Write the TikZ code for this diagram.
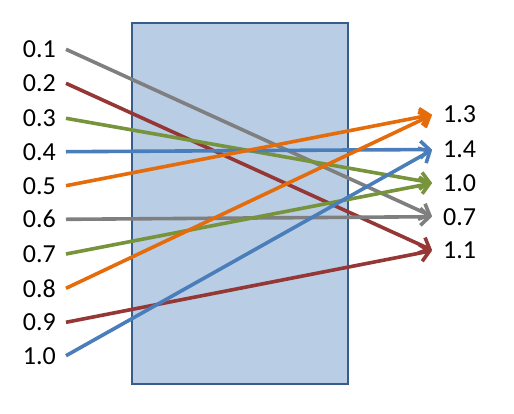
\documentclass[tikz,border=0pt]{standalone}
\usepackage{fontspec}
\setmainfont{Carlito}
\usetikzlibrary{arrows.meta}
\definecolor{cgray}{HTML}{7F7F7F}
\definecolor{cred}{HTML}{953735}
\definecolor{cgreen}{HTML}{77933C}
\definecolor{cblue}{HTML}{4A7EBB}
\definecolor{corange}{HTML}{E46C0A}
\definecolor{boxfill}{HTML}{B9CDE5}
\definecolor{boxline}{HTML}{385D8A}
\begin{document}
\begin{tikzpicture}[x=1pt,y=-1pt,
  lab/.style={font=\fontsize{26}{30}\selectfont, inner ysep=0pt},
  llab/.style={lab, anchor=east, inner xsep=10pt},
  rlab/.style={lab, anchor=west, inner xsep=10pt},
  conn/.style={line width=3.6pt, -{Straight Barb[length=9pt,width=17pt,line width=3.6pt]}, shorten >=1pt}]
\useasboundingbox (0,0) rectangle (514,413);
\node[draw=boxline, fill=boxfill, line width=2.7pt, minimum width=216pt, minimum height=361pt, inner sep=0pt] (box) at (240,203.5) {};
\node[llab] (L1) at (66,49.3) {0.1};
\node[llab] (L2) at (66,83.3) {0.2};
\node[llab] (L3) at (66,118.3) {0.3};
\node[llab] (L4) at (66,151.7) {0.4};
\node[llab] (L5) at (66,185.7) {0.5};
\node[llab] (L6) at (66,219.3) {0.6};
\node[llab] (L7) at (66,254) {0.7};
\node[llab] (L8) at (66,288.3) {0.8};
\node[llab] (L9) at (66,322.3) {0.9};
\node[llab] (L10) at (66,355.7) {1.0};
\node[rlab] (R1) at (433,114.5) {1.3};
\node[rlab] (R2) at (433,149.5) {1.4};
\node[rlab] (R3) at (433,183) {1.0};
\node[rlab] (R4) at (433,216.7) {0.7};
\node[rlab] (R5) at (433,250.5) {1.1};
\draw[conn, cgray] (L1.east) -- (R4.west);
\draw[conn, cred] (L2.east) -- (R5.west);
\draw[conn, cgreen] (L3.east) -- (R3.west);
\draw[conn, cblue] (L4.east) -- (R2.west);
\draw[conn, corange] (L5.east) -- (R1.west);
\draw[conn, cgray] (L6.east) -- (R4.west);
\draw[conn, cgreen] (L7.east) -- (R3.west);
\draw[conn, corange] (L8.east) -- (R1.west);
\draw[conn, cred] (L9.east) -- (R5.west);
\draw[conn, cblue] (L10.east) -- (R2.west);
\end{tikzpicture}
\end{document}
